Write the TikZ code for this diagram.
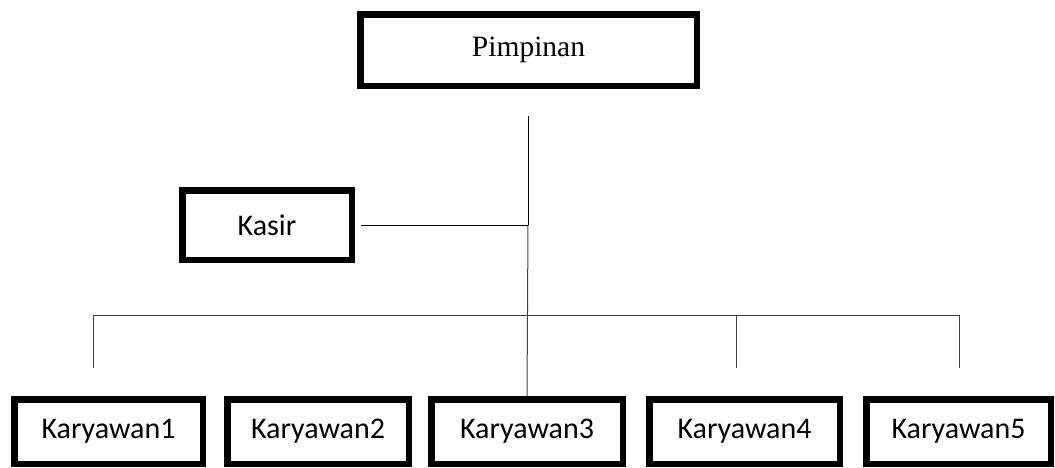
\documentclass[tikz,border=0pt]{standalone}
\usepackage{fontspec}
\setmainfont{Liberation Serif}
\newfontfamily\calib{Carlito}
\begin{document}
\begin{tikzpicture}[x=1pt,y=-1pt,
  boxstyle/.style={draw=black,line width=6.5pt,inner sep=0pt,fill=white,font=\calib\fontsize{30}{35}\selectfont},
  thinline/.style={draw=black!75,line width=1pt}]
\useasboundingbox (0,0) rectangle (1055,467);
\node[boxstyle,font=\fontsize{29.5}{34}\selectfont,minimum width=336.5pt,minimum height=71.5pt] (pim) at (528.5,50) {Pimpinan};
\node[boxstyle,minimum width=169.5pt,minimum height=69.5pt] (kasir) at (267,225) {Kasir};
\node[boxstyle,minimum width=188.5pt,minimum height=64.5pt] (k1) at (108.5,431.5) {Karyawan1};
\node[boxstyle,minimum width=181.5pt,minimum height=64.5pt] (k2) at (318,431.5) {Karyawan2};
\node[boxstyle,minimum width=191.5pt,minimum height=64.5pt] (k3) at (527,431.5) {Karyawan3};
\node[boxstyle,minimum width=190.5pt,minimum height=64.5pt] (k4) at (744.5,431.5) {Karyawan4};
\node[boxstyle,minimum width=184.5pt,minimum height=64.5pt] (k5) at (958.5,431.5) {Karyawan5};
\coordinate (top) at (528,116);
\coordinate (jk) at (528,225);
\coordinate (bl) at (93,315);
\coordinate (br) at (959,315);
\coordinate (b4) at (736,315);
\coordinate (d1) at (93,368);
\coordinate (d4) at (736,368);
\coordinate (d5) at (959,368);
\draw[thinline,draw=black] (top) -- (jk);
\draw[thinline] (jk) -- (k3.north);
\draw[thinline,draw=black,shorten <=6pt] (kasir.east) -- (jk);
\draw[thinline] (bl) -- (br);
\draw[thinline] (bl) -- (d1);
\draw[thinline] (b4) -- (d4);
\draw[thinline] (br) -- (d5);
\end{tikzpicture}
\end{document}
